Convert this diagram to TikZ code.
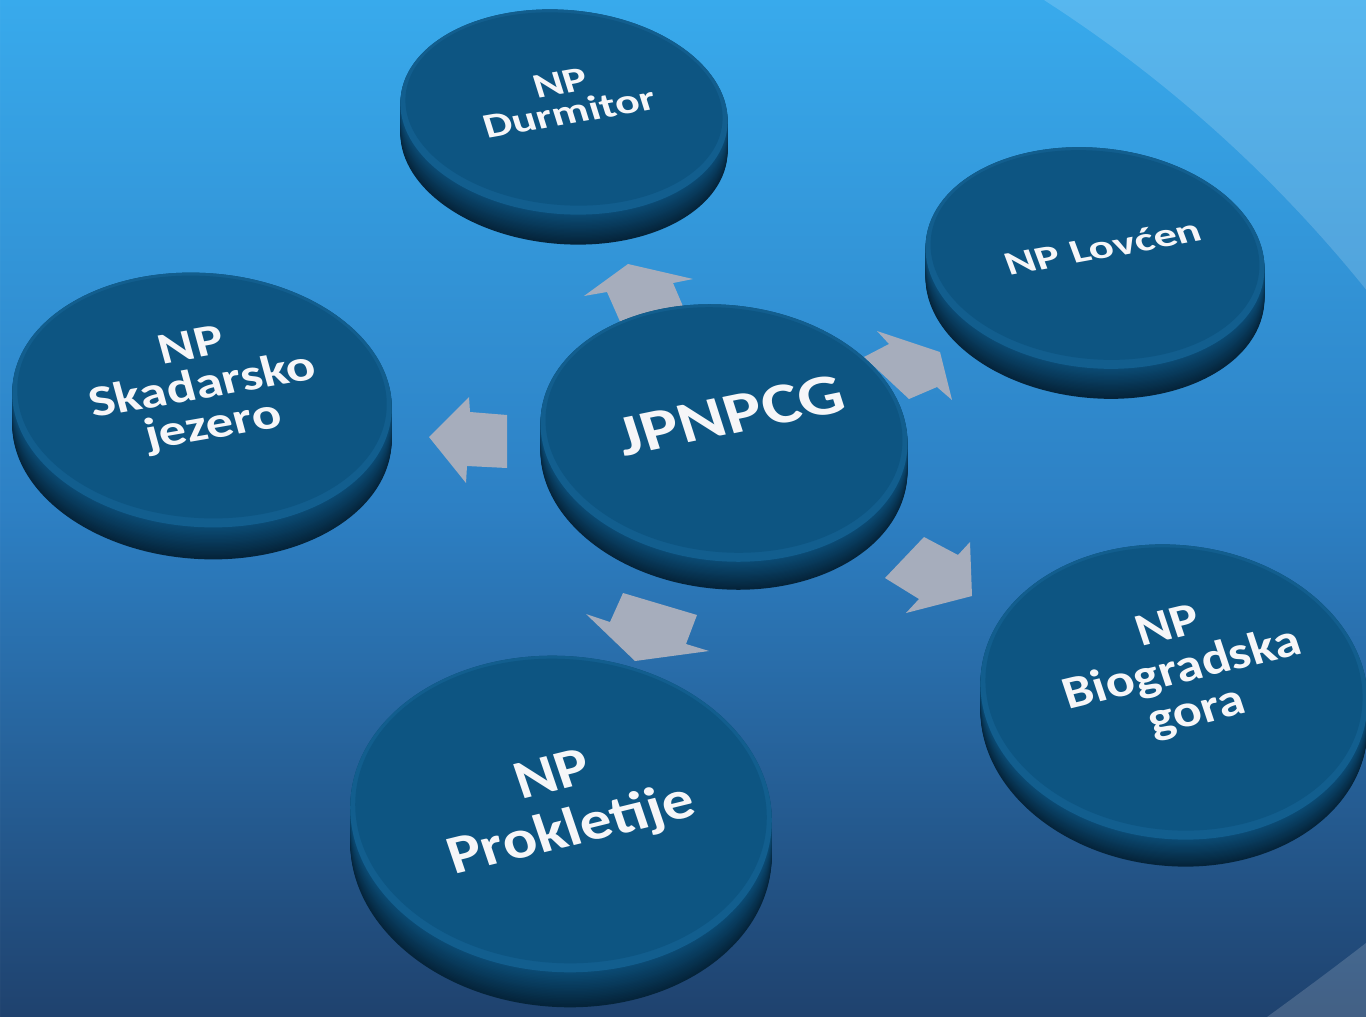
\documentclass[tikz,border=0pt]{standalone}
\usepackage{fontspec}
\setmainfont{Carlito}
\definecolor{bgtop}{RGB}{56,170,236}
\definecolor{bgmid}{RGB}{45,128,196}
\definecolor{bgbot}{RGB}{31,66,110}
\definecolor{disctop}{RGB}{13,85,130}
\definecolor{discbevel}{RGB}{18,94,142}
\definecolor{discrim}{RGB}{11,76,118}
\definecolor{discdark}{RGB}{5,36,58}
\definecolor{arrowgray}{RGB}{166,173,188}
\definecolor{txtwhite}{RGB}{246,246,248}
\tikzset{
  blockarrow/.style={fill=arrowgray},
  lbl/.style={align=center, inner sep=0pt, text=txtwhite},
  swoosh/.style={fill=white, opacity=0.16},
}
\newcommand\disc[6]{%
  \foreach \k in {0,...,24}{%
    \pgfmathsetmacro\dy{#5*(1-\k/24)}%
    \pgfmathtruncatemacro\pc{\k*100/24}%
    \fill[discrim!\pc!discdark, rotate around={#6:(#1,#2+\dy)}] (#1,#2+\dy) ellipse ({#3pt} and {#4pt});%
  }%
  \fill[discbevel, rotate around={#6:(#1,#2)}] (#1,#2) ellipse ({#3pt} and {#4pt});%
  \pgfmathsetmacro\rxi{#3-5}\pgfmathsetmacro\ryi{#4-6}%
  \fill[disctop, rotate around={#6:(#1,#2-3)}] (#1,#2-3) ellipse ({\rxi pt} and {\ryi pt});%
}
\newcommand\dlabel[8]{%
  \node[lbl, font=\fontsize{#6}{#7}\selectfont\bfseries, yscale=#5, rotate=#4] (#1) at (#2,#3) {#8};%
}
\begin{document}
\begin{tikzpicture}[x=1pt,y=-1pt]
\useasboundingbox (0,0) rectangle (1366,1017);
\begin{scope}
\clip (0,0) rectangle (1366,1017);
\shade[top color=bgtop, bottom color=bgbot, middle color=bgmid] (0,0) rectangle (1366,1017);
\fill[swoosh, even odd rule] (0,0) rectangle (1366,1017) (317,1133) circle (1346pt);
\fill[swoosh] (1267,1017) .. controls (1300,993) and (1335,967) .. (1366,943) -- (1366,1017) -- cycle;
% outer discs
\disc{564}{112}{164}{102}{30}{-5}
\disc{1095}{258}{170}{110}{30}{-6}
\disc{202}{400}{190}{127}{32}{-4}
\disc{561}{814}{211}{158}{35}{-4}
\disc{1174}{692}{194}{147}{27}{-6}
% arrows
\fill[blockarrow] (584,296) -- (628,264) -- (693,279) -- (673,283) -- (688,318) -- (626,335) -- (607,292) -- cycle;
\fill[blockarrow] (877,331) -- (940,352) -- (952,400) -- (937,387) -- (909,399) -- (864,357) -- (889,344) -- cycle;
\fill[blockarrow] (469,397) -- (470,412) -- (507,415) -- (507,468) -- (467,466) -- (466,483) -- (429,437) -- cycle;
\fill[blockarrow] (623,593) -- (697,615) -- (686,644) -- (709,651) -- (635,661) -- (586,614) -- (610,622) -- cycle;
\fill[blockarrow] (924,537) -- (958,555) -- (970,542) -- (972,596) -- (906,613) -- (919,599) -- (885,578) -- cycle;
% central disc
\disc{724}{433}{184}{128}{28}{-6}
% labels
\dlabel{jp}{731}{415}{14.4}{0.8}{72}{72}{JPNPCG}
\dlabel{dur}{565}{98}{13.2}{0.75}{46}{41}{NP\\Durmitor}
\dlabel{lov}{1103}{247}{14.6}{0.7}{47}{50}{NP Lovćen}
\dlabel{ska}{203}{388}{12.3}{0.8}{55}{51}{NP\\Skadarsko\\jezero}
\dlabel{pro}{563}{805}{16.1}{0.85}{64}{67}{NP\\Prokletije}
\dlabel{bio}{1183}{671}{15.8}{0.85}{54}{52}{NP\\Biogradska\\gora}
\end{scope}
\end{tikzpicture}
\end{document}
